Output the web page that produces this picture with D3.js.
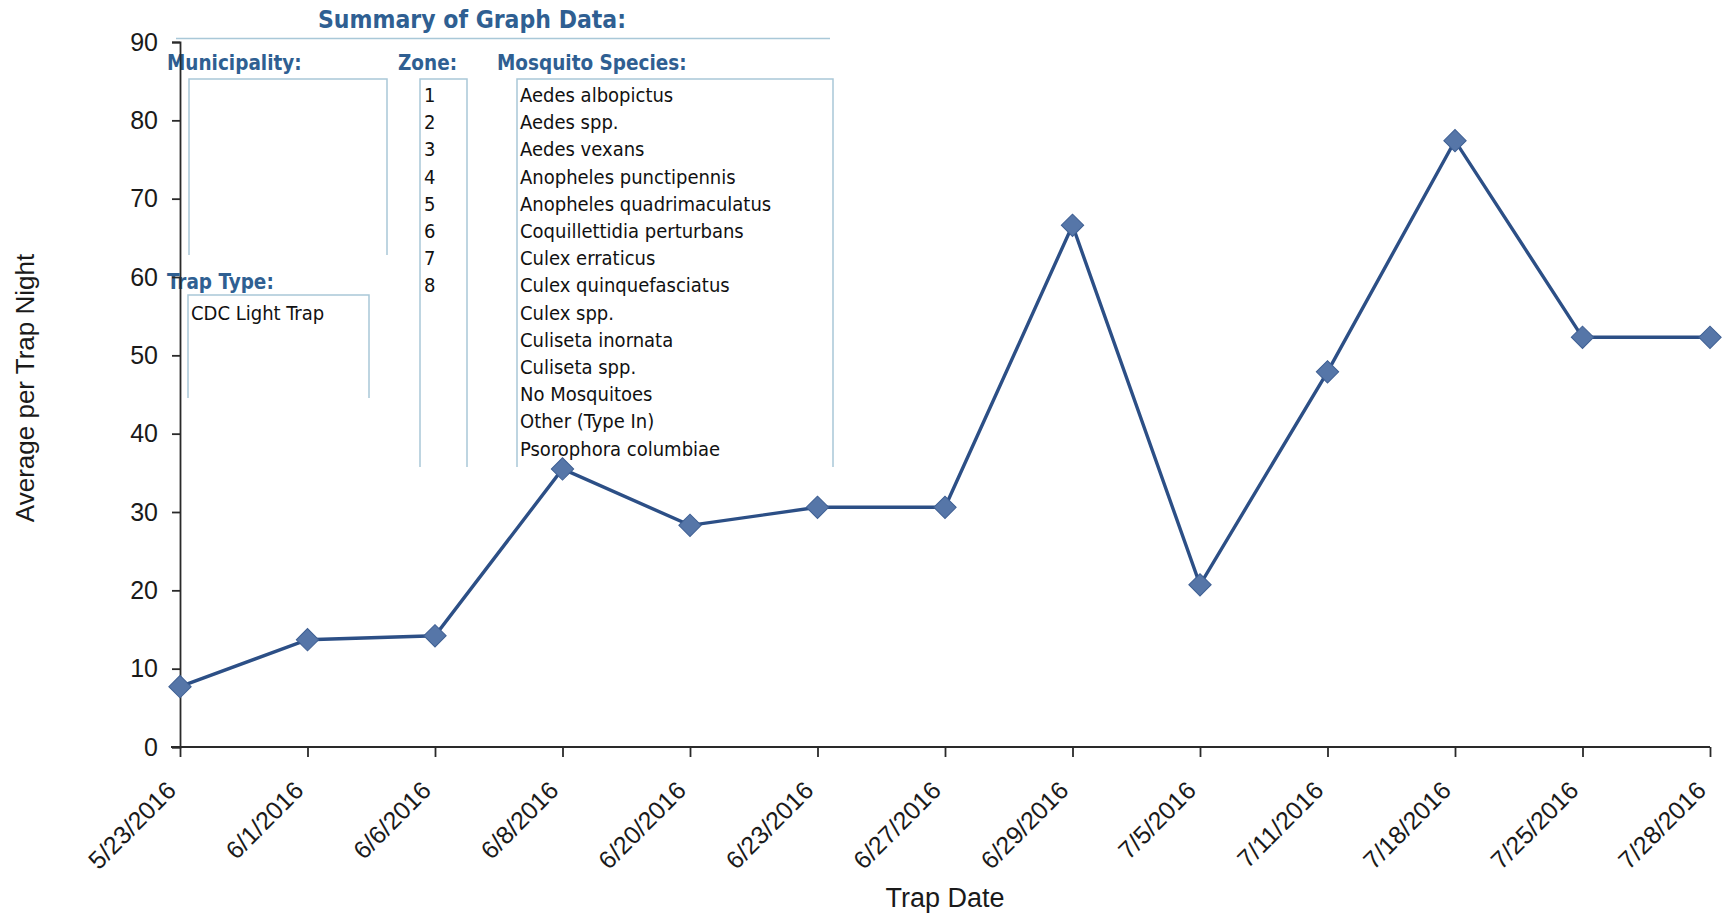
<!DOCTYPE html>
<html>
<head>
<meta charset="utf-8">
<script src="https://cdn.jsdelivr.net/npm/d3@7"></script>
<style>
  body { margin: 0; background: #fff; }
  .axis text { font-family: "Liberation Sans", Arial, sans-serif; font-size: 25px; fill: #1a1a1a; }
  .axis path, .axis line { stroke: #2a2a2a; stroke-width: 1.8; }
  .sum { font-family: "DejaVu Sans Condensed", "DejaVu Sans", sans-serif; }
</style>
</head>
<body>
<svg id="chart"></svg>
<script>
;(function() {
  const width = 1723
  const height = 916
  const margin = { left: 180, right: 13, top: 42, bottom: 169 }

  const dates = ["5/23/2016", "6/1/2016", "6/6/2016", "6/8/2016", "6/20/2016", "6/23/2016", "6/27/2016",
    "6/29/2016", "7/5/2016", "7/11/2016", "7/18/2016", "7/25/2016", "7/28/2016"]
  const averages = [7.7, 13.7, 14.2, 35.5, 28.3, 30.6, 30.6, 66.6, 20.7, 47.9, 77.4, 52.3, 52.3]
  const yTicks = [0, 10, 20, 30, 40, 50, 60, 70, 80, 90]

  const zones = ["1", "2", "3", "4", "5", "6", "7", "8"]
  const species = ["Aedes albopictus", "Aedes spp.", "Aedes vexans", "Anopheles punctipennis",
    "Anopheles quadrimaculatus", "Coquillettidia perturbans", "Culex erraticus", "Culex quinquefasciatus",
    "Culex spp.", "Culiseta inornata", "Culiseta spp.", "No Mosquitoes", "Other (Type In)", "Psorophora columbiae"]
  const trapTypes = ["CDC Light Trap"]

  const data = dates.map((d, i) => ({ date: d, value: averages[i] }))

  const $svg = d3.select("#chart").attr("width", width).attr("height", height)

  const x = d3.scalePoint().domain(dates).range([margin.left, width - margin.right])
  const y = d3.scaleLinear().domain([0, 90]).range([height - margin.bottom, margin.top])

  const blue = "#2f5f92"
  const boxLine = "#a9c8d8"

  // summary panel (drawn first so the axis sits on top)
  const $sum = $svg.append("g").attr("class", "sum")
  $sum.append("text").attr("x", 472).attr("y", 28).attr("text-anchor", "middle")
    .attr("fill", blue).attr("font-weight", "bold").attr("font-size", 24.5).text("Summary of Graph Data:")
  $sum.append("line").attr("x1", 176).attr("x2", 830).attr("y1", 38.5).attr("y2", 38.5)
    .attr("stroke", boxLine).attr("stroke-width", 1.5)

  const headers = [["Municipality:", 167, 70], ["Zone:", 398, 70], ["Mosquito Species:", 497, 70], ["Trap Type:", 167, 289]]
  $sum.selectAll("text.hdr").data(headers).enter().append("text").attr("class", "hdr")
    .attr("x", d => d[1]).attr("y", d => d[2]).attr("fill", blue).attr("font-weight", "bold")
    .attr("font-size", 20.5).text(d => d[0])

  const boxes = [[189, 79, 387, 255], [420, 79, 467, 467], [517, 79, 833, 467], [188, 295, 369, 398]]
  boxes.forEach(b => {
    $sum.append("path")
      .attr("d", `M${b[0]},${b[3]}V${b[1]}H${b[2]}V${b[3]}`)
      .attr("fill", "none").attr("stroke", boxLine).attr("stroke-width", 1.5)
  })

  const rowH = 27.2
  $sum.selectAll("text.zone").data(zones).enter().append("text").attr("class", "zone")
    .attr("x", 424).attr("y", (d, i) => 102 + i * rowH).attr("font-size", 20).attr("fill", "#111").text(d => d)
  $sum.selectAll("text.sp").data(species).enter().append("text").attr("class", "sp")
    .attr("x", 520).attr("y", (d, i) => 102 + i * rowH).attr("font-size", 20).attr("fill", "#111").text(d => d)
  $sum.selectAll("text.trap").data(trapTypes).enter().append("text").attr("class", "trap")
    .attr("x", 191).attr("y", (d, i) => 320 + i * rowH).attr("font-size", 20).attr("fill", "#111").text(d => d)

  // axes
  $svg.append("g").attr("class", "axis")
    .attr("transform", `translate(${margin.left},0)`)
    .call(d3.axisLeft(y).tickValues(yTicks).tickSize(8).tickPadding(14))

  const $xAxis = $svg.append("g").attr("class", "axis")
    .attr("transform", `translate(0,${height - margin.bottom})`)
    .call(d3.axisBottom(x).tickSize(10).tickSizeOuter(0))
  $xAxis.select(".domain").attr("d", `M${margin.left - 9},0H${width - margin.right}`)
  $xAxis.selectAll(".tick text")
    .attr("text-anchor", "end")
    .attr("x", 0).attr("y", 0).attr("dy", 0)
    .attr("transform", "translate(-3,45) rotate(-45)")

  $svg.append("text")
    .attr("x", (margin.left + width - margin.right) / 2).attr("y", 907)
    .attr("text-anchor", "middle").attr("font-family", "Liberation Sans, Arial, sans-serif")
    .attr("font-size", 27).attr("fill", "#1a1a1a").text("Trap Date")
  $svg.append("text")
    .attr("transform", `translate(34,388) rotate(-90)`)
    .attr("text-anchor", "middle").attr("font-family", "Liberation Sans, Arial, sans-serif")
    .attr("font-size", 26).attr("fill", "#1a1a1a").text("Average per Trap Night")

  // series
  const line = d3.line().x(d => x(d.date)).y(d => y(d.value))
  $svg.append("path").datum(data).attr("d", line)
    .attr("fill", "none").attr("stroke", "#2c4f86").attr("stroke-width", 3.4)

  $svg.selectAll("path.pt").data(data).enter().append("path").attr("class", "pt")
    .attr("d", d3.symbol().type(d3.symbolSquare).size(250))
    .attr("transform", d => `translate(${x(d.date)},${y(d.value)}) rotate(45)`)
    .attr("fill", "#5676a8").attr("stroke", "#3e5f93").attr("stroke-width", 1)
})()
</script>
</body>
</html>
